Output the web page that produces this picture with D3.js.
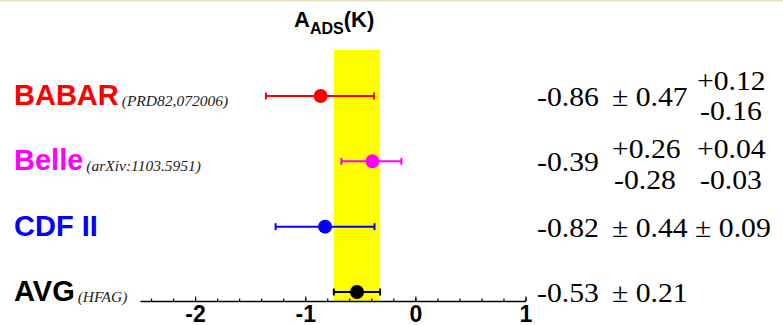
<!DOCTYPE html>
<html>
<head>
<meta charset="utf-8">
<script src="https://cdn.jsdelivr.net/npm/d3@7"></script>
<style>
  body { margin: 0; background: #fff; }
  svg { display: block; }
</style>
</head>
<body>
<svg width="783" height="325"></svg>
<script>
// data
var experiments = ["BABAR", "Belle", "CDF II", "AVG"];
var refs = ["(PRD82,072006)", "(arXiv:1103.5951)", "", "(HFAG)"];
var colors = ["#ff0000", "#ff00ff", "#0000ff", "#000000"];
var central = [-0.86, -0.39, -0.82, -0.53];
var statUp = [0.47, 0.26, 0.44, 0.21];
var statDn = [0.47, 0.28, 0.44, 0.21];
var sysUp = [0.12, 0.04, 0.09, 0];
var sysDn = [0.16, 0.03, 0.09, 0];
var centralText = ["-0.86", "-0.39", "-0.82", "-0.53"];
var majorTicks = [-2, -1, 0, 1];
var avgIdx = 3;

var svg = d3.select("svg");
var width = +svg.attr("width");
var height = +svg.attr("height");

var x = d3.scaleLinear().domain([-2.5, 1]).range([140, 525.5]);
var y = d3.scalePoint().domain(experiments).range([96, 292]);
var axisY = 301;

// faint top frame line
svg.append("rect").attr("x", 0).attr("y", 0).attr("width", width).attr("height", 1.5)
    .attr("fill", "#efe5c2");

// average band
var avgLo = central[avgIdx] - statDn[avgIdx];
var avgHi = central[avgIdx] + statUp[avgIdx];
svg.append("rect")
    .attr("x", x(avgLo))
    .attr("y", 50)
    .attr("width", x(avgHi) - x(avgLo))
    .attr("height", axisY - 50)
    .attr("fill", "#ffff00");

// axis: minor ticks, then major ticks with labels
svg.append("g")
    .attr("transform", "translate(0," + axisY + ")")
    .call(d3.axisBottom(x).tickValues(d3.range(-2.4, 1.001, 0.2)).tickSize(-2.5).tickFormat(""))
    .call(g => g.select(".domain").remove())
    .selectAll("line").attr("stroke-width", 1.2);

var ax = svg.append("g")
    .attr("transform", "translate(0," + axisY + ")")
    .call(d3.axisBottom(x).tickValues(majorTicks).tickSizeInner(-4.5).tickSizeOuter(0)
        .tickPadding(5).tickFormat(d => String(d)));
ax.select(".domain").attr("stroke-width", 1.5);
ax.selectAll("line").attr("stroke-width", 1.2);
ax.selectAll("text")
    .attr("font-family", "Liberation Sans, Arial, sans-serif")
    .attr("font-weight", "bold")
    .attr("font-size", 23)
    .attr("fill", "#000");

// error bars
function errs(i) {
    var lo = Math.sqrt(statDn[i] * statDn[i] + sysDn[i] * sysDn[i]);
    var hi = Math.sqrt(statUp[i] * statUp[i] + sysUp[i] * sysUp[i]);
    return [central[i] - lo, central[i] + hi];
}

var rows = svg.selectAll(".row")
    .data(experiments)
    .enter().append("g")
    .attr("class", "row");

rows.append("line")
    .attr("x1", (d, i) => x(errs(i)[0]))
    .attr("x2", (d, i) => x(errs(i)[1]))
    .attr("y1", d => y(d)).attr("y2", d => y(d))
    .attr("stroke", (d, i) => colors[i])
    .attr("stroke-width", 2);

[0, 1].forEach(function (k) {
    rows.append("line")
        .attr("x1", (d, i) => x(errs(i)[k]))
        .attr("x2", (d, i) => x(errs(i)[k]))
        .attr("y1", d => y(d) - 3.5).attr("y2", d => y(d) + 3.5)
        .attr("stroke", (d, i) => colors[i])
        .attr("stroke-width", 2);
});

rows.append("circle")
    .attr("cx", (d, i) => x(central[i]))
    .attr("cy", d => y(d))
    .attr("r", 7)
    .attr("fill", (d, i) => colors[i]);

// experiment labels
var lab = rows.append("text")
    .attr("x", 14)
    .attr("y", d => y(d) + 9)
    .attr("font-family", "Liberation Sans, Arial, sans-serif");
lab.append("tspan")
    .attr("font-weight", "bold")
    .attr("font-size", 29)
    .attr("fill", (d, i) => colors[i])
    .text(d => d);
lab.append("tspan")
    .attr("font-family", "Liberation Serif, Times New Roman, serif")
    .attr("font-style", "italic")
    .attr("font-size", 15.5)
    .attr("fill", "#222")
    .attr("dx", 3)
    .attr("dy", 1)
    .text((d, i) => refs[i]);

// title
var title = svg.append("text")
    .attr("x", 294).attr("y", 27)
    .attr("font-family", "Liberation Sans, Arial, sans-serif")
    .attr("font-weight", "bold")
    .attr("font-size", 22);
title.append("tspan").text("A");
title.append("tspan").attr("font-size", 16).attr("dy", 7).text("ADS");
title.append("tspan").attr("dy", -7).text("(K)");

// numeric results, serif, slightly stretched like the original
function val(px, py, s) {
    svg.append("text")
        .attr("transform", "translate(" + px + "," + py + ") scale(1.1,1)")
        .attr("font-family", "Liberation Serif, Times New Roman, serif")
        .attr("font-size", 27)
        .attr("fill", "#000")
        .text(s);
}
experiments.forEach(function (d, i) {
    val(537, y(d) + 10, centralText[i]);
});
var r0 = y(experiments[0]) + 10, r1 = y(experiments[1]) + 10, r2 = y(experiments[2]) + 10, r3 = y(experiments[3]) + 10;
val(612, r0, "\u00b1 " + statUp[0].toFixed(2));
val(697, r0 - 16, "+" + sysUp[0].toFixed(2));
val(700, r0 + 14, "-" + sysDn[0].toFixed(2));
val(612, r1 - 13, "+" + statUp[1].toFixed(2));
val(614, r1 + 18, "-" + statDn[1].toFixed(2));
val(697, r1 - 13, "+" + sysUp[1].toFixed(2));
val(700, r1 + 18, "-" + sysDn[1].toFixed(2));
val(612, r2, "\u00b1 " + statUp[2].toFixed(2) + " \u00b1 " + sysUp[2].toFixed(2));
val(612, r3, "\u00b1 " + statUp[3].toFixed(2));
</script>
</body>
</html>
